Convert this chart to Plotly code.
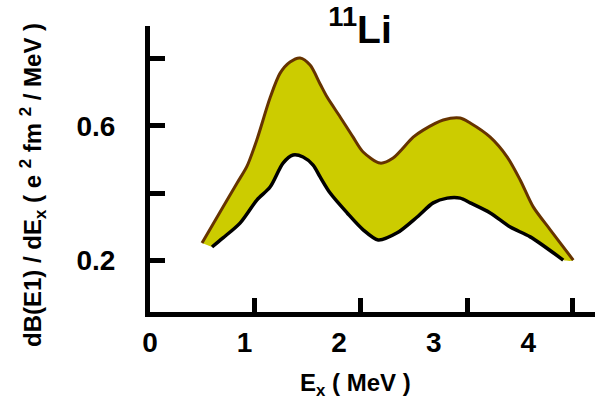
import plotly.graph_objects as go

# Upper edge of the 11Li E1 strength band (E_x in MeV, dB/dE in e^2 fm^2 / MeV)
upper_ex = [0.550, 0.772, 0.921, 1.026, 1.132, 1.270, 1.376, 1.481, 1.587, 1.693,
            1.799, 1.873, 2.011, 2.148, 2.254, 2.434, 2.571, 2.783, 2.889, 3.101,
            3.280, 3.386, 3.598, 3.778, 3.915, 4.053, 4.233, 4.476]
upper_db = [0.252, 0.359, 0.430, 0.480, 0.560, 0.683, 0.756, 0.789, 0.801, 0.780,
            0.724, 0.685, 0.626, 0.566, 0.522, 0.489, 0.504, 0.566, 0.587, 0.617,
            0.623, 0.608, 0.566, 0.507, 0.439, 0.359, 0.291, 0.201]

# Lower edge of the band
lower_ex = [0.656, 0.772, 0.952, 1.132, 1.270, 1.407, 1.513, 1.619, 1.725, 1.799,
            1.905, 2.085, 2.254, 2.413, 2.614, 2.825, 2.995, 3.143, 3.280, 3.386,
            3.598, 3.810, 4.021, 4.370]
lower_db = [0.240, 0.267, 0.311, 0.380, 0.418, 0.489, 0.513, 0.507, 0.483, 0.448,
            0.400, 0.341, 0.291, 0.261, 0.282, 0.329, 0.371, 0.385, 0.385, 0.371,
            0.341, 0.299, 0.270, 0.201]

# Axis ticks
x_tick_marks = [1.11, 2.23, 3.36, 4.47]
x_label_vals = [0, 1, 2, 3, 4]
x_label_text = ["0", "1", "2", "3", "4"]
y_label_vals = [0.2, 0.6]
y_label_text = ["0.2", "0.6"]
y_minor_vals = [0.4, 0.8]

X_RANGE = [0, 4.706]
Y_RANGE = [0.047, 0.896]

FONT = "Liberation Sans, Arial, sans-serif"
FILL = "#CCCC00"
UPPER_LINE = "#663300"

fig = go.Figure()

# Shaded band: upper edge forward, lower edge back
fig.add_trace(go.Scatter(
    x=upper_ex + lower_ex[::-1],
    y=upper_db + lower_db[::-1],
    fill="toself", fillcolor=FILL,
    mode="lines", line=dict(width=0, color=FILL, shape="spline", smoothing=0.8),
    hoverinfo="skip", showlegend=False,
))
fig.add_trace(go.Scatter(
    x=upper_ex, y=upper_db, mode="lines",
    line=dict(color=UPPER_LINE, width=3, shape="spline", smoothing=0.8),
    showlegend=False,
))
fig.add_trace(go.Scatter(
    x=lower_ex, y=lower_db, mode="lines",
    line=dict(color="black", width=3.5, shape="spline", smoothing=0.8),
    showlegend=False,
))
# Carrier for the labelled energy axis
fig.add_trace(go.Scatter(
    x=x_label_vals, y=[None] * len(x_label_vals), xaxis="x2",
    mode="markers", hoverinfo="skip", showlegend=False,
))

fig.update_layout(
    width=595, height=404,
    margin=dict(l=150, r=0, t=26, b=92),
    paper_bgcolor="white", plot_bgcolor="white",
    font=dict(family=FONT, color="black"),
    xaxis=dict(
        range=X_RANGE, showgrid=False, zeroline=False,
        showline=True, linecolor="black", linewidth=5,
        tickmode="array", tickvals=x_tick_marks, showticklabels=False,
        ticks="inside", ticklen=14, tickwidth=5, tickcolor="black",
    ),
    xaxis2=dict(
        range=X_RANGE, overlaying="x", anchor="y", side="bottom",
        showgrid=False, zeroline=False, showline=False, ticks="",
        tickmode="array", tickvals=x_label_vals, ticktext=x_label_text,
        tickfont=dict(family=FONT, size=28, color="black", weight="bold"),
        ticklabelstandoff=11,
    ),
    yaxis=dict(
        range=Y_RANGE, showgrid=False, zeroline=False,
        showline=True, linecolor="black", linewidth=5,
        tickmode="array", tickvals=y_label_vals, ticktext=y_label_text,
        ticks="inside", ticklen=15, tickwidth=5, tickcolor="black",
        minor=dict(tickmode="array", tickvals=y_minor_vals, ticks="inside",
                   ticklen=15, tickwidth=5, tickcolor="black", showgrid=False),
        tickfont=dict(family=FONT, size=28, color="black", weight="bold"),
        ticklabelstandoff=24,
    ),
    title=dict(
        text="<sup>11</sup>Li",
        font=dict(family=FONT, size=39, color="black", weight="bold"),
        xref="container", x=360 / 595, xanchor="center",
        yref="container", y=1 - 29 / 404, yanchor="middle",
    ),
    annotations=[
        dict(
            text="dB(E1) / dE<sub>x</sub> ( e <sup>2</sup> fm <sup>2</sup> / MeV )",
            xref="paper", yref="paper", x=-117 / 445, y=(312 - 185) / 286,
            xanchor="center", yanchor="middle", textangle=-90, showarrow=False,
            font=dict(family=FONT, size=24, color="black", weight="bold"),
        ),
        dict(
            text="E<sub>x</sub> ( MeV )",
            xref="paper", yref="paper", x=(355 - 150) / 445, y=-(384 - 312) / 286,
            xanchor="center", yanchor="middle", showarrow=False,
            font=dict(family=FONT, size=24, color="black", weight="bold"),
        ),
    ],
)

fig.write_html("out.html")
